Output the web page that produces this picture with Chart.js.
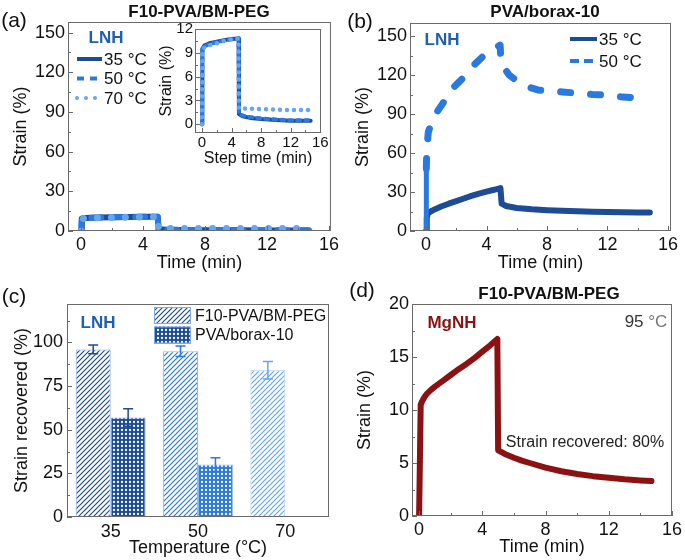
<!DOCTYPE html>
<html>
<head>
<meta charset="utf-8">
<script src="https://cdn.jsdelivr.net/npm/chart.js@4.4.1/dist/chart.umd.min.js"></script>
<style>
  body { margin: 0; background: #fff; }
  #fig { position: relative; width: 685px; height: 560px; overflow: hidden;
         font-family: "Liberation Sans", Arial, sans-serif; color: #111; }
  #fig canvas { position: absolute; }
  .t { position: absolute; transform: translate(-50%, -50%); white-space: nowrap; line-height: 1; }
  .pl { font-size: 21px; }
  .ttl { font-size: 17px; font-weight: bold; }
  .lnh { font-size: 17px; font-weight: bold; color: #1f5fb0; }
</style>
</head>
<body>
<div id="fig">
  <canvas id="cA" width="342" height="275" style="left:0;top:0"></canvas>
  <canvas id="cIn" width="185" height="152" style="left:148px;top:18px"></canvas>
  <canvas id="cB" width="343" height="275" style="left:342px;top:0"></canvas>
  <canvas id="cC" width="342" height="280" style="left:0;top:280px"></canvas>
  <canvas id="cD" width="343" height="280" style="left:342px;top:280px"></canvas>

  <div class="t pl" style="left:14px;top:19px">(a)</div>
  <div class="t ttl" style="left:199px;top:11px">F10-PVA/BM-PEG</div>
  <div class="t lnh" style="left:106px;top:37px">LNH</div>

  <div class="t pl" style="left:360px;top:20px">(b)</div>
  <div class="t ttl" style="left:545px;top:11px">PVA/borax-10</div>
  <div class="t lnh" style="left:442px;top:39px">LNH</div>

  <div class="t pl" style="left:14px;top:295px">(c)</div>
  <div class="t lnh" style="left:98px;top:322px">LNH</div>

  <div class="t pl" style="left:362px;top:289px">(d)</div>
  <div class="t ttl" style="left:549px;top:293px">F10-PVA/BM-PEG</div>
  <div class="t" style="left:452px;top:322px;font-size:17px;font-weight:bold;color:#8b1212">MgNH</div>
  <div class="t" style="left:646px;top:321px;font-size:17px;color:#333">95 <span style="color:#777">°C</span></div>
  <div class="t" style="left:585px;top:442px;font-size:16px;color:#222">Strain recovered: 80%</div>
</div>

<script>
// ---- data ----
// (a) F10-PVA/BM-PEG, LNH (also used by the inset)
const timeA    = [0, 0.05, 0.3, 1, 2, 3, 4, 4.95, 5.0, 5.5, 6.5, 8, 10, 12, 14.7];
const strainA35 = [0, 9.5, 9.9, 10.2, 10.4, 10.6, 10.75, 10.8, 1.3, 1.0, 0.8, 0.65, 0.55, 0.45, 0.45];
const strainA50 = [0, 9.4, 9.8, 10.1, 10.35, 10.55, 10.7, 10.8, 1.3, 1.1, 0.9, 0.75, 0.6, 0.5, 0.5];
const strainA70 = [0, 9.3, 9.7, 9.95, 10.2, 10.5, 10.7, 10.8, 2.0, 1.98, 1.95, 1.9, 1.85, 1.8, 1.8];

// (b) PVA/borax-10, LNH
const timeB35   = [0, 0.05, 0.1, 0.3, 0.6, 1, 1.5, 2, 2.5, 3, 3.5, 4, 4.5, 4.92, 5.0, 5.3, 6, 7, 8, 9, 10, 11, 12, 13, 14, 14.8];
const strainB35 = [0, 10, 13, 15, 16.8, 18.8, 21, 23, 25, 27, 28.8, 30.3, 31.7, 33, 21, 19.2, 17.7, 16.7, 16, 15.5, 15.1, 14.8, 14.6, 14.4, 14.3, 14.2];
const timeB50   = [0, 0.02, 0.05, 0.15, 0.46, 1.1, 1.65, 2.45, 3.2, 4, 4.5, 4.9, 4.95, 5.0, 5.5, 6.4, 7.4, 9, 11, 12, 13, 14, 14.8];
const strainB50 = [0, 48, 62, 76, 87, 98, 108.5, 117.7, 128, 137, 140.5, 143, 131, 128, 120, 112, 108.5, 107, 105, 104.5, 103, 102.5, 102];

// (c) strain recovered
const tempLabels = ['35', '50', '70'];
const recF10   = [96, 95, 84];
const errF10   = [2.5, 3, 5];
const recBorax = [57, 30, null];
const errBorax = [5, 4, null];

// (d) F10-PVA/BM-PEG, MgNH, 95 °C
const timeD   = [0, 0.1, 0.2, 0.35, 0.5, 0.75, 1, 1.5, 2, 2.5, 3, 3.5, 4, 4.5, 4.95, 5.0, 5.25, 5.5, 6, 6.5, 7, 8, 9, 10, 11, 12, 13, 14, 14.7];
const strainD = [0, 10.5, 10.85, 11.25, 11.55, 11.9, 12.2, 12.75, 13.3, 13.85, 14.35, 14.9, 15.5, 16.1, 16.7, 6.2, 6.0, 5.8, 5.5, 5.23, 5.0, 4.57, 4.22, 3.96, 3.76, 3.6, 3.46, 3.36, 3.3];

// tick labels
const timeTicks   = [0, 4, 8, 12, 16];
const strainTicks = [0, 30, 60, 90, 120, 150];
const insetTicks  = [0, 3, 6, 9, 12];
const recTicks    = [0, 25, 50, 75, 100];
const strainTicksD = [0, 5, 10, 15, 20];

// ---- styles ----
const FONT = '"Liberation Sans", Arial, sans-serif';
const C35 = '#1d4b94', C50 = '#2a79e0', C70 = '#64a6f0', RED = '#8b1212';

function xy(xs, ys) { return xs.map((x, i) => ({ x: x, y: ys[i] })); }

function labelsFrom(majors) {
  return v => majors.some(m => Math.abs(m - v) < 1e-6) ? String(v) : '';
}

function axis(o) {
  return {
    type: 'linear', min: o.min, max: o.max,
    grid: { display: false, drawTicks: false },
    border: { display: false },
    ticks: {
      stepSize: o.step, includeBounds: false, autoSkip: false, maxRotation: 0, maxTicksLimit: 60,
      padding: o.pad, color: '#111', font: { family: FONT, size: o.fs },
      callback: labelsFrom(o.majors)
    },
    title: { display: true, text: o.title, color: '#111', font: { family: FONT, size: o.tfs }, padding: o.tpad },
    afterFit: s => { if (s.isHorizontal()) s.height = o.size; else s.width = o.size; }
  };
}

// box round the plot area + inward ticks
const framePlugin = {
  id: 'frame',
  afterDraw(chart, args, opts) {
    const ctx = chart.ctx, a = chart.chartArea;
    ctx.save();
    ctx.strokeStyle = '#6a6a6a';
    ctx.lineWidth = 1;
    ctx.strokeRect(a.left + 0.5, a.top + 0.5, a.right - a.left - 1, a.bottom - a.top - 1);
    Object.values(chart.scales).forEach(s => {
      if (s.type !== 'linear') return;
      s.ticks.forEach(t => {
        const len = t.label !== '' ? (opts.major || 5) : (opts.minor || 3);
        const p = Math.round(s.getPixelForValue(t.value)) + 0.5;
        ctx.beginPath();
        if (s.isHorizontal()) { ctx.moveTo(p, a.bottom); ctx.lineTo(p, a.bottom - len); }
        else { ctx.moveTo(a.left, p); ctx.lineTo(a.left + len, p); }
        ctx.stroke();
      });
    });
    ctx.restore();
  }
};

// legend drawn inside the plot area from the datasets
const keyPlugin = {
  id: 'key',
  afterDraw(chart, args, o) {
    if (!o.show) return;
    const ctx = chart.ctx, a = chart.chartArea;
    ctx.save();
    chart.data.datasets.filter(ds => !ds.noKey).forEach((ds, i) => {
      const x = a.left + o.x, y = a.top + o.y + i * o.row;
      if (ds.keyFill) {
        ctx.fillStyle = ds.keyFill;
        ctx.fillRect(x, y - o.h / 2, o.w, o.h);
        ctx.strokeStyle = ds.keyBorder; ctx.lineWidth = 1;
        ctx.strokeRect(x + 0.5, y - o.h / 2 + 0.5, o.w - 1, o.h - 1);
      } else {
        ctx.strokeStyle = ds.borderColor;
        ctx.lineWidth = ds.keyWidth || 4;
        ctx.lineCap = ds.keyCap || 'butt';
        ctx.setLineDash(ds.keyDash || []);
        ctx.beginPath(); ctx.moveTo(x, y); ctx.lineTo(x + o.w, y); ctx.stroke();
        ctx.setLineDash([]);
      }
      ctx.fillStyle = '#111';
      ctx.font = o.fs + 'px ' + FONT;
      ctx.textAlign = 'left'; ctx.textBaseline = 'middle';
      ctx.fillText(ds.label, x + o.w + o.gap, y + 1);
    });
    ctx.restore();
  }
};

// error bars for the bar chart
const errPlugin = {
  id: 'err',
  afterDatasetsDraw(chart) {
    const ctx = chart.ctx, ys = chart.scales.y;
    ctx.save();
    chart.data.datasets.forEach((ds, i) => {
      chart.getDatasetMeta(i).data.forEach((bar, j) => {
        const v = ds.data[j], e = ds.errors[j];
        if (v == null || e == null) return;
        const top = ys.getPixelForValue(v + e), bot = ys.getPixelForValue(v - e);
        ctx.strokeStyle = ds.errColor[j];
        ctx.lineWidth = 1.5;
        ctx.beginPath();
        ctx.moveTo(bar.x, top); ctx.lineTo(bar.x, bot);
        ctx.moveTo(bar.x - 5, top); ctx.lineTo(bar.x + 5, top);
        ctx.moveTo(bar.x - 5, bot); ctx.lineTo(bar.x + 5, bot);
        ctx.stroke();
      });
    });
    ctx.restore();
  }
};

function hatch(color) {
  const s = 5, c = document.createElement('canvas');
  c.width = c.height = s;
  const g = c.getContext('2d');
  g.fillStyle = '#fff'; g.fillRect(0, 0, s, s);
  g.strokeStyle = color; g.lineWidth = 1.2;
  g.beginPath();
  g.moveTo(0, s); g.lineTo(s, 0);
  g.moveTo(-1, 1); g.lineTo(1, -1);
  g.moveTo(s - 1, s + 1); g.lineTo(s + 1, s - 1);
  g.stroke();
  return g.createPattern(c, 'repeat');
}

function cross(color) {
  const s = 4, c = document.createElement('canvas');
  c.width = c.height = s;
  const g = c.getContext('2d');
  g.fillStyle = color; g.fillRect(0, 0, s, s);
  g.fillStyle = '#fff';
  g.beginPath(); g.arc(s / 2, s / 2, 1.15, 0, Math.PI * 2); g.fill();
  return g.createPattern(c, 'repeat');
}

function lineSet(label, xs, ys, color, width, dash, order, extra) {
  return Object.assign({
    label: label, data: xy(xs, ys), borderColor: color, backgroundColor: color,
    borderWidth: width, borderDash: dash, borderCapStyle: 'round', borderJoinStyle: 'round',
    pointRadius: 0, tension: 0, fill: false, order: order
  }, extra || {});
}

function baseOpts(pad, scales, key) {
  return {
    responsive: false, animation: false, events: [],
    layout: { padding: pad },
    plugins: { legend: { display: false }, tooltip: { enabled: false }, key: key || { show: false }, frame: {} },
    scales: scales
  };
}

// ---- (a) ----
new Chart(document.getElementById('cA'), {
  type: 'line',
  data: { datasets: [
    lineSet('35 °C', timeA, strainA35, C35, 6, [], 2, { keyWidth: 4 }),
    lineSet('50 °C', timeA, strainA50, C50, 6, [10, 12], 1, { keyWidth: 4, keyDash: [7, 6] }),
    lineSet('70 °C', timeA, strainA70, C70, 7, [0, 14], 0, { keyWidth: 4, keyCap: 'round', keyDash: [0, 9] })
  ] },
  options: baseOpts({ left: 0, top: 22, right: 10, bottom: 0 }, {
    x: axis({ min: -0.84, max: 16.13, step: 2, majors: timeTicks, fs: 18, pad: 3, title: 'Time (min)', tfs: 18, tpad: { bottom: 1 }, size: 44 }),
    y: axis({ min: 0, max: 158, step: 15, majors: strainTicks, fs: 18, pad: 3, title: 'Strain (%)', tfs: 18, tpad: { top: 10 }, size: 68 })
  }, { show: true, x: 9, y: 37, row: 19.5, w: 25, h: 4, gap: 2, fs: 17 }),
  plugins: [framePlugin, keyPlugin]
});

// ---- (a) inset ----
new Chart(document.getElementById('cIn'), {
  type: 'line',
  data: { datasets: [
    lineSet('35 °C', timeA, strainA35, C35, 4, [], 2),
    lineSet('50 °C', timeA, strainA50, C50, 4, [3, 5], 1),
    lineSet('70 °C', timeA, strainA70, C70, 4.5, [0, 7], 0)
  ] },
  options: baseOpts({ left: 0, top: 9, right: 12, bottom: 0 }, {
    x: axis({ min: -0.95, max: 16.1, step: 2, majors: timeTicks, fs: 15, pad: 1, title: 'Step time (min)', tfs: 16, tpad: { bottom: 2 }, size: 37 }),
    y: axis({ min: -1.1, max: 12, step: 1.5, majors: insetTicks, fs: 15, pad: 2, title: 'Strain (%)', tfs: 16, tpad: { top: 9 }, size: 47 })
  }),
  plugins: [framePlugin]
});

// ---- (b) ----
new Chart(document.getElementById('cB'), {
  type: 'line',
  data: { datasets: [
    lineSet('35 °C', timeB35, strainB35, C35, 6, [], 2, { keyWidth: 4 }),
    lineSet('50 °C', timeB50.slice(1), strainB50.slice(1), C50, 7, [10, 20], 0, { keyWidth: 4, keyDash: [9, 5], spanGaps: true }),
    // the first jump of the 50 °C run is a single long stroke
    lineSet('50 °C', timeB50.slice(0, 2), strainB50.slice(0, 2), C50, 5, [], 1, { noKey: true })
  ] },
  options: baseOpts({ left: 0, top: 23, right: 14, bottom: 0 }, {
    x: axis({ min: -1.06, max: 16.2, step: 2, majors: timeTicks, fs: 18, pad: 3, title: 'Time (min)', tfs: 18, tpad: { bottom: 1 }, size: 44 }),
    y: axis({ min: 0, max: 160, step: 15, majors: strainTicks, fs: 18, pad: 3, title: 'Strain (%)', tfs: 18, tpad: { top: 10 }, size: 68 })
  }, { show: true, x: 160, y: 16, row: 22, w: 27, h: 4, gap: 2, fs: 17 }),
  plugins: [framePlugin, keyPlugin]
});

// ---- (c) ----
const barLine = [C35, C50, C70];
const barEdge = ['#7eaaea', '#8ab8f2', '#a9cdf6'];
new Chart(document.getElementById('cC'), {
  type: 'bar',
  data: {
    labels: tempLabels,
    datasets: [
      { label: 'F10-PVA/BM-PEG', data: recF10, errors: errF10, errColor: barLine,
        backgroundColor: barLine.map(hatch), borderColor: barEdge, borderWidth: 1,
        keyFill: hatch(C35), keyBorder: '#7eaaea',
        categoryPercentage: 0.8, barPercentage: 1.0 },
      { label: 'PVA/borax-10', data: recBorax, errors: errBorax, errColor: barLine,
        backgroundColor: barLine.map(cross), borderColor: barEdge, borderWidth: 1,
        keyFill: cross(C35), keyBorder: '#7eaaea',
        categoryPercentage: 0.8, barPercentage: 1.0 }
    ]
  },
  options: baseOpts({ left: 0, top: 24, right: 13, bottom: 0 }, {
    x: {
      type: 'category', grid: { display: false, drawTicks: false }, border: { display: false },
      ticks: { padding: 4, color: '#111', font: { family: FONT, size: 18 } },
      title: { display: true, text: 'Temperature (°C)', color: '#111', font: { family: FONT, size: 18 }, padding: { bottom: 1 } },
      afterFit: s => { s.height = 43; }
    },
    y: axis({ min: 0, max: 122, step: 12.5, majors: recTicks, fs: 18, pad: 4, title: 'Strain recovered (%)', tfs: 18, tpad: { top: 11 }, size: 67 })
  }, { show: true, x: 87, y: 11.5, row: 19.5, w: 37, h: 17, gap: 4, fs: 16 }),
  plugins: [errPlugin, framePlugin, keyPlugin]
});

// ---- (d) ----
new Chart(document.getElementById('cD'), {
  type: 'line',
  data: { datasets: [
    lineSet('MgNH', timeD, strainD, RED, 6, [], 0)
  ] },
  options: baseOpts({ left: 0, top: 24, right: 10, bottom: 0 }, {
    x: axis({ min: -0.45, max: 16, step: 2, majors: timeTicks, fs: 18, pad: 3, title: 'Time (min)', tfs: 18, tpad: { bottom: 2 }, size: 44 }),
    y: axis({ min: 0, max: 20, step: 2.5, majors: strainTicksD, fs: 18, pad: 3, title: 'Strain (%)', tfs: 18, tpad: { top: 12 }, size: 70 })
  }),
  plugins: [framePlugin]
});
</script>
</body>
</html>
